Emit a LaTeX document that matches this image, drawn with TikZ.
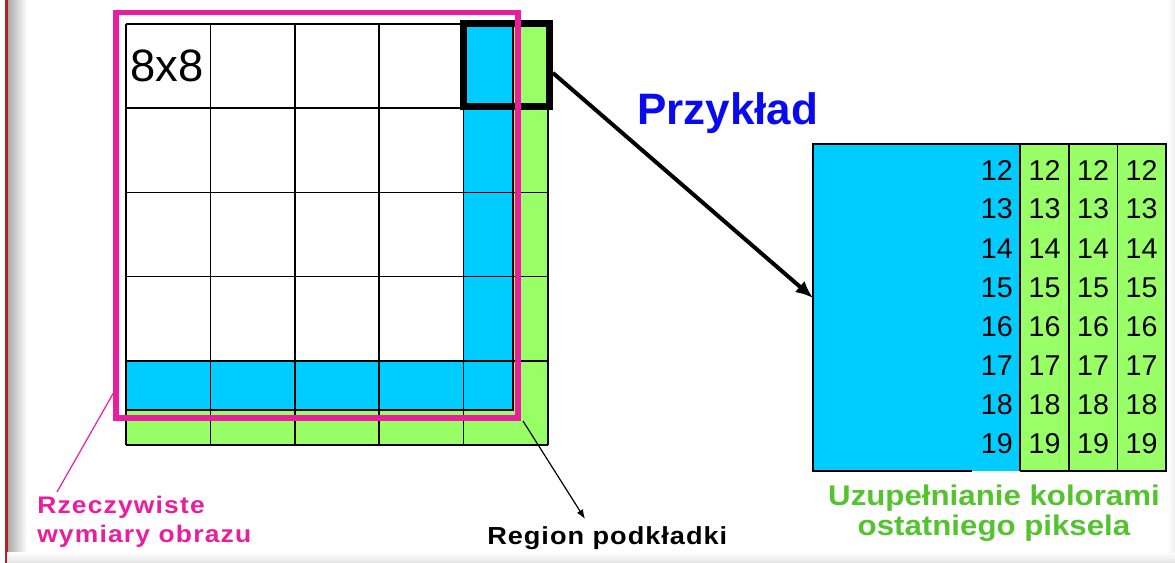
\documentclass[tikz,border=0pt]{standalone}
\usepackage{fontspec}
\setmainfont{Liberation Sans}
\newfontfamily\lblfont[FakeStretch=1.1]{Liberation Sans}
\usetikzlibrary{arrows.meta,positioning}
\definecolor{cyanpix}{HTML}{00CCFF}
\definecolor{greenpix}{HTML}{99FF66}
\definecolor{pinkline}{HTML}{E91E9E}
\definecolor{bluetxt}{HTML}{0A0AF0}
\definecolor{greentxt}{HTML}{55C22F}
\definecolor{edgered}{HTML}{B22222}

\begin{document}
\begin{tikzpicture}[x=0.75pt,y=-0.75pt,>=Latex,
    grid/.style={line width=1.2pt},
    num/.style={inner sep=0pt,font=\fontsize{21.5}{24}\selectfont},
    lbl/.style={inner sep=0pt}]
  \useasboundingbox (0,0) rectangle (1175,563);
  % window edge
  \shade[left color=gray!70,right color=white] (7,0) rectangle (27,563);
  \fill[edgered] (4.5,0) rectangle (7.5,563);
  \shade[top color=white,bottom color=gray!22] (7,552) rectangle (1175,563);
  \shade[left color=white,right color=gray!12] (1166,0) rectangle (1175,552);

  % padded 8x8 block
  \fill[greenpix] (126,410) rectangle (548,445);
  \fill[greenpix] (513,24) rectangle (548,445);
  \fill[cyanpix] (126,362) rectangle (513,410);
  \fill[cyanpix] (464,24) rectangle (513,410);
  \foreach \i in {0,...,5} {
    \draw[grid] (126+84.4*\i,24) -- (126+84.4*\i,445);
    \draw[grid] (126,24+84.2*\i) -- (548,24+84.2*\i);
  }
  \draw[grid] (126,410) -- (513,410) -- (513,24);
  \node[inner sep=0pt,anchor=base west,font=\fontsize{34}{40}\selectfont] (size) at (130,82) {8x8};

  % selected block and real image size
  \draw[line width=5.2pt] (463.5,23.5) rectangle (549.5,106.5);
  \draw[pinkline,line width=4pt] (116,12.5) rectangle (518,418);
  \coordinate (sel) at (553,73);
  \coordinate (imgleft) at (114,392);
  \coordinate (imgcorner) at (523,421);

  % zoomed example
  \fill[cyanpix] (813,144) rectangle (1020,471);
  \fill[greenpix] (1020,144) rectangle (1166,471);
  \draw[grid] (972,471) -- (813,471) -- (813,144) -- (1166,144) -- (1166,471) -- (1020,471);
  \foreach \x in {1020,1068.7,1117.3}
    \draw[grid] (\x,144) -- (\x,471);
  \foreach \n [count=\r from 0] in {12,...,19} {
    \node[num,anchor=east] (c\n) at (1013,170+39.1*\r) {\n};
    \foreach \cx [count=\k] in {1044.5,1093,1141.5}
      \node[num] (p\n-\k) at (\cx,170+39.1*\r) {\n};
  }
  \coordinate (panel) at (813,298);
  \node[inner sep=0pt,anchor=base west,bluetxt,font=\bfseries\fontsize{33}{40}\selectfont] (ex) at (637,125) {Przykład};

  % labels
  \node[lbl,pinkline,anchor=north west,align=left,font=\lblfont\bfseries\fontsize{18}{21.8}\selectfont\addfontfeatures{LetterSpace=5}] (real) at (37,496) {Rzeczywiste\\wymiary obrazu};
  \node[lbl,anchor=base west,font=\lblfont\bfseries\fontsize{18.5}{22}\selectfont\addfontfeatures{LetterSpace=4}] (pad) at (487,544) {Region podkładki};
  \node[lbl,greentxt,anchor=north,align=center,font=\lblfont\bfseries\fontsize{21.3}{22.5}\selectfont] (fill) at (994,485) {Uzupełnianie kolorami\\ostatniego piksela};
  \coordinate (realtop) at (57,492);
  \coordinate (padtop) at (585,519);

  \draw[->,line width=3pt,arrows={-Latex[length=13pt,width=11pt]}] (sel) -- (panel);
  \draw[->,line width=0.9pt] (imgcorner) -- (padtop);
  \draw[pinkline,line width=0.9pt] (imgleft) -- (realtop);
\end{tikzpicture}
\end{document}
